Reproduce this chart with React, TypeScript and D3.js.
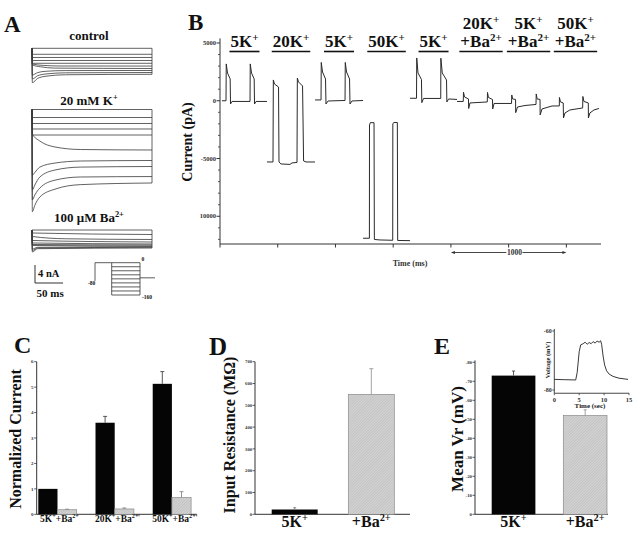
import React from "react";
import * as d3 from "d3";

const SERIF = "'Liberation Serif','Times New Roman',serif";
type Pt = [number, number];
type Part = { t: string; s?: boolean };

// ---------------- Panel A: current traces (ms, nA relative to top trace) ----------------
const controlTraces: Pt[][] = [
  [[0, 0], [214, 0]],
  [[0, 0], [0.6, -1.33], [214, -1.33]],
  [[0, 0], [0.6, -2.04], [214, -2.04]],
  [[0, 0], [0.6, -2.71], [214, -2.71]],
  [[0, 0], [0.6, -3.33], [214, -3.33]],
  [[0, 0], [0.6, -3.49], [20, -3.8], [50, -3.93], [214, -3.95]],
  [[0, 0], [0.6, -3.71], [15, -4.1], [40, -4.4], [214, -4.49]],
  [[0, 0], [0.6, -5.93], [10, -5.4], [25, -5.1], [60, -4.95], [214, -4.93]],
  [[0, 0], [0.6, -6.82], [10, -6.1], [25, -5.7], [60, -5.45], [214, -5.38]],
  [[0, 0], [0.6, -7.64], [10, -6.7], [25, -6.2], [60, -5.88], [214, -5.78]],
];
const k20Traces: Pt[][] = [
  [[0, 0], [214, 0]],
  [[0, 0], [0.6, -1.78], [214, -1.78]],
  [[0, 0], [0.6, -3.11], [214, -3.11]],
  [[0, 0], [0.6, -4.33], [214, -4.33]],
  [[0, 0], [0.6, -5.67], [214, -5.67]],
  [[0, 0], [0.6, -5.44], [14, -7.0], [41, -8.33], [86, -8.89], [214, -9.0]],
  [[0, 0], [0.6, -14.6], [5, -14.0], [14, -12.8], [41, -11.9], [86, -11.45], [214, -11.33]],
  [[0, 0], [0.6, -17.9], [5, -16.8], [14, -15.0], [41, -13.45], [86, -12.8], [214, -12.67]],
  [[0, 0], [0.6, -20.1], [5, -19.0], [14, -17.45], [41, -15.7], [86, -15.0], [214, -14.9]],
  [[0, 0], [0.6, -22.7], [5, -21.3], [14, -19.45], [41, -17.7], [86, -16.7], [214, -16.33]],
];
const baTraces: Pt[][] = [
  [[0, 0], [214, 0]],
  [[0, 0], [0.6, -0.67], [214, -1.0]],
  [[0, 0], [0.6, -1.44], [60, -1.95], [214, -2.11]],
  [[0, 0], [0.6, -2.33], [214, -2.67]],
  [[0, 0], [0.6, -2.89], [214, -3.11]],
  [[0, 0], [0.6, -3.22], [214, -3.33]],
  [[0, 0], [0.6, -3.44], [214, -3.56]],
  [[0, 0], [0.6, -4.22], [10, -3.85], [214, -3.71]],
  [[0, 0], [0.6, -4.56], [10, -4.0], [214, -3.84]],
  [[0, 0], [0.6, -4.89], [10, -4.15], [214, -4.0]],
];
const protocolSteps = [0, -20, -40, -60, -80, -100, -120, -140, -160];

// ---------------- Panel B: continuous current record (ms, pA) ----------------
const seg5K1: Pt[] = [
  [17, 0], [52, 0], [54, 3190], [65, 2400], [88, 1890], [91, -280], [104, -60], [260, -60],
  [262, 3190], [273, 2400], [296, 1890], [299, -280], [312, -60], [407, -60],
];
const seg20K: Pt[] = [
  [407, -5298], [459, -5300], [462, 1800], [472, 1450], [507, 1190], [511, -5300], [528, -5470],
  [606, -5510], [624, -5380], [667, -5340], [670, 1970], [680, 1630], [715, 1280], [724, -5210],
  [745, -5300], [823, -5300],
];
const seg5K2: Pt[] = [
  [823, 70], [875, 70], [877, 3315], [888, 2490], [914, 1890], [918, -280], [936, -20],
  [1083, 25], [1085, 3315], [1096, 2490], [1122, 1890], [1126, -280], [1143, -20], [1239, 25],
];
const seg50K: Pt[] = [
  [1239, -11903], [1294, -11900], [1295, -2095], [1302, -1896], [1334, -1896], [1337, -12007],
  [1386, -12050], [1496, -12077], [1497, -2008], [1505, -1880], [1536, -1880], [1539, -12094],
  [1646, -12110],
];
const seg5K3: Pt[] = [
  [1646, 216], [1702, 216], [1704, 3705], [1715, 2407], [1745, 1844], [1748, -164], [1763, 200],
  [1912, 200], [1913, 3680], [1925, 2407], [1962, 1800], [1965, -104], [1980, 156], [2053, 113],
];
const seg20KBa: Pt[] = [
  [2053, -60], [2107, -60], [2109, 736], [2118, 330], [2152, 156], [2154, -667], [2165, -190],
  [2315, -104], [2317, 720], [2325, 286], [2360, 113], [2362, -710], [2374, -234], [2469, -234],
];
const seg5KBa: Pt[] = [
  [2469, -234], [2525, -234], [2527, 500], [2535, 156], [2560, 113], [2561, -1030], [2577, -540],
  [2642, -410], [2737, -320], [2739, 590], [2747, 156], [2772, 113], [2773, -1230], [2789, -710],
  [2876, -450],
];
const seg50KBa: Pt[] = [
  [2876, -450], [2939, -450], [2940, 286], [2949, -104], [2973, -190], [2975, -1490], [2988, -1056],
  [3031, -796], [3141, -623], [3143, 372], [3152, -60], [3190, -190], [3191, -1490], [3204, -1056],
  [3239, -796], [3282, -667],
];
const bSegments = [seg5K1, seg20K, seg5K2, seg50K, seg5K3, seg20KBa, seg5KBa, seg50KBa];
const bSegLabels: Part[][][] = [
  [[{ t: "5K" }, { t: "+", s: true }]],
  [[{ t: "20K" }, { t: "+", s: true }]],
  [[{ t: "5K" }, { t: "+", s: true }]],
  [[{ t: "50K" }, { t: "+", s: true }]],
  [[{ t: "5K" }, { t: "+", s: true }]],
  [[{ t: "20K" }, { t: "+", s: true }], [{ t: "+Ba" }, { t: "2+", s: true }]],
  [[{ t: "5K" }, { t: "+", s: true }], [{ t: "+Ba" }, { t: "2+", s: true }]],
  [[{ t: "50K" }, { t: "+", s: true }], [{ t: "+Ba" }, { t: "2+", s: true }]],
];
const bYTicks = [5000, 0, -5000, -10000];
const bYTickLabels = ["5000", "0", "-5000", "10000"];
const bXTicks = [0, 500, 1000, 1500, 2000, 2500, 3000];

// ---------------- Panel C ----------------
const cCats = ["5K", "20K", "50K"];
const cLabels: Part[][] = [
  [{ t: "5K" }, { t: "+", s: true }, { t: "+Ba" }, { t: "2+", s: true }],
  [{ t: "20K" }, { t: "+", s: true }, { t: "+Ba" }, { t: "2+", s: true }],
  [{ t: "50K" }, { t: "+", s: true }, { t: "+Ba" }, { t: "2+", s: true }],
];
const cControl = [1.0, 3.6, 5.13];
const cControlErr = [0.0, 0.25, 0.48];
const cBa = [0.18, 0.21, 0.66];
const cBaErr = [0.02, 0.04, 0.23];
const cTicks = [0, 1, 2, 3, 4, 5, 6];

// ---------------- Panel D ----------------
const dCats = ["5K", "Ba"];
const dLabels: Part[][] = [[{ t: "5K" }, { t: "+", s: true }], [{ t: "+Ba" }, { t: "2+", s: true }]];
const dValues = [22, 550];
const dErr = [8, 118];
const dTicks = [0, 100, 200, 300, 400, 500, 600, 700];

// ---------------- Panel E ----------------
const eCats = ["5K", "Ba"];
const eLabels: Part[][] = [[{ t: "5K" }, { t: "+", s: true }], [{ t: "+Ba" }, { t: "2+", s: true }]];
const eValues = [-73, -52];
const eErr = [-2.4, -3.0];
const eTicks = [0, -10, -20, -30, -40, -50, -60, -70, -80];
const insetTrace: Pt[] = [
  [0, -76.4], [2, -76.5], [4.3, -76.6], [4.6, -74], [5.0, -67], [5.3, -64.7], [5.8, -64.3],
  [6.2, -63.8], [6.6, -64.5], [7.0, -63.9], [7.4, -64.3], [7.8, -63.6], [8.2, -64.1], [8.6, -63.4],
  [9.0, -63.8], [9.3, -63.3], [9.5, -64.5], [9.8, -68.5], [10.1, -71.5], [10.5, -73.5], [11, -74.6],
  [11.8, -75.4], [13, -76], [14.8, -76.4],
];
const insetXTicks = [0, 5, 10, 15];
const insetYTicks = [-60, -80];

// ---------------- helpers ----------------
let _ctx: CanvasRenderingContext2D | null = null;
function measure(parts: Part[], size: number, supRatio = 0.65) {
  if (!_ctx) _ctx = document.createElement("canvas").getContext("2d");
  let w = 0;
  for (const p of parts) {
    const fs = p.s ? size * supRatio : size;
    _ctx!.font = `bold ${fs}px "Liberation Serif"`;
    w += _ctx!.measureText(p.t).width;
  }
  return w;
}

function Rich({ x, y, parts, size, anchor = "middle", supRatio = 0.65, transform }: any) {
  const shift = size * 0.38;
  let cur = 0;
  const kids = (parts as Part[]).map((p, i) => {
    const target = p.s ? -shift : 0;
    const dy = target - cur;
    cur = target;
    return (
      <tspan key={i} dy={dy} fontSize={p.s ? size * supRatio : size}>
        {p.t}
      </tspan>
    );
  });
  return (
    <text x={x} y={y} textAnchor={anchor} fontWeight="bold" fontFamily={SERIF} fontSize={size} fill="#111" transform={transform}>
      {kids}
    </text>
  );
}

function Letter({ x, y, t, size }: { x: number; y: number; t: string; size: number }) {
  return (
    <text x={x} y={y} fontWeight="bold" fontFamily={SERIF} fontSize={size} fill="#111">
      {t}
    </text>
  );
}

const AX = "#333";

// ---------------- Panel A ----------------
function PanelA() {
  const xA = d3.scaleLinear().domain([0, 214]).range([32, 152]);
  const groups = [
    { traces: controlTraces, top: 48.3, titleY: 40, title: [{ t: "control" }] as Part[] },
    { traces: k20Traces, top: 109.5, titleY: 105, title: [{ t: "20 mM K" }, { t: "+", s: true }] as Part[] },
    { traces: baTraces, top: 230, titleY: 221.7, title: [{ t: "100 μM Ba" }, { t: "2+", s: true }] as Part[] },
  ];
  const yV = d3.scaleLinear().domain([0, -160]).range([262.7, 295]);
  const scaleY = d3.scaleLinear().domain([0, -4]).range([265, 283]);
  return (
    <g>
      <Letter x={4} y={32} t="A" size={23} />
      {groups.map((g, gi) => {
        const yA = d3.scaleLinear().domain([0, -4]).range([g.top, g.top + 18]);
        const line = d3
          .line<Pt>()
          .x((d) => xA(d[0]))
          .y((d) => yA(d[1]))
          .curve(d3.curveMonotoneX);
        const ends = g.traces.map((t) => t[t.length - 1][1]);
        return (
          <g key={gi}>
            <Rich x={89} y={g.titleY} parts={g.title} size={13} />
            {g.traces.map((t, i) => (
              <path key={i} d={line(t) || ""} fill="none" stroke="#3a3a3a" strokeWidth={0.8} />
            ))}
            <line x1={xA(214)} x2={xA(214)} y1={yA(0)} y2={yA(d3.min(ends)!)} stroke="#3a3a3a" strokeWidth={0.8} />
          </g>
        );
      })}
      {/* scale bars */}
      <line x1={35} x2={35} y1={scaleY(0)} y2={scaleY(-4)} stroke={AX} strokeWidth={1} />
      <line x1={35} x2={35 + xA(50) - xA(0)} y1={scaleY(-4)} y2={scaleY(-4)} stroke={AX} strokeWidth={1} />
      <text x={38} y={277.3} fontFamily={SERIF} fontWeight="bold" fontSize={10.5} fill="#111">
        4 nA
      </text>
      <text x={36.5} y={296.7} fontFamily={SERIF} fontWeight="bold" fontSize={11} fill="#111">
        50 ms
      </text>
      {/* voltage protocol */}
      <line x1={95} x2={95} y1={yV(0)} y2={yV(-90)} stroke={AX} strokeWidth={0.8} />
      <line x1={95} x2={111.7} y1={yV(0)} y2={yV(0)} stroke={AX} strokeWidth={0.8} />
      {protocolSteps.map((v) => (
        <line key={v} x1={111.7} x2={140} y1={yV(v)} y2={yV(v)} stroke={AX} strokeWidth={0.8} />
      ))}
      <line x1={111.7} x2={111.7} y1={yV(0)} y2={yV(-160)} stroke={AX} strokeWidth={0.8} />
      <line x1={140} x2={140} y1={yV(0)} y2={yV(-160)} stroke={AX} strokeWidth={0.8} />
      <line x1={140} x2={155} y1={yV(-75)} y2={yV(-75)} stroke={AX} strokeWidth={0.8} />
      <text x={141.5} y={261} fontFamily={SERIF} fontWeight="bold" fontSize={5.5} fill="#111">0</text>
      <text x={88} y={285} fontFamily={SERIF} fontWeight="bold" fontSize={5.5} fill="#111">-80</text>
      <text x={142} y={299} fontFamily={SERIF} fontWeight="bold" fontSize={5.5} fill="#111">-160</text>
    </g>
  );
}

// ---------------- Panel B ----------------
function PanelB() {
  const xB = d3.scaleLinear().domain([0, 3300]).range([220, 601]);
  const yB = d3.scaleLinear().domain([-12400, 5000]).range([244, 43]);
  const line = d3
    .line<Pt>()
    .x((d) => xB(d[0]))
    .y((d) => yB(d[1]));
  const minor = d3.range(-12000, 5001, 1000).filter((v) => !bYTicks.includes(v));
  const size = 17;
  return (
    <g>
      <Letter x={188} y={30} t="B" size={23} />
      {/* y axis */}
      <line x1={xB(0)} x2={xB(0)} y1={yB(5400)} y2={yB(-12400)} stroke={AX} strokeWidth={1} />
      {bYTicks.map((v, i) => (
        <g key={v}>
          <line x1={xB(0) - 3.5} x2={xB(0)} y1={yB(v)} y2={yB(v)} stroke={AX} strokeWidth={1} />
          <text x={xB(0) - 4} y={yB(v) + 2} textAnchor="end" fontFamily={SERIF} fontWeight="bold" fontSize={6.5} fill="#333">
            {bYTickLabels[i]}
          </text>
        </g>
      ))}
      {minor.map((v) => (
        <line key={v} x1={xB(0) - 2} x2={xB(0)} y1={yB(v)} y2={yB(v)} stroke={AX} strokeWidth={0.8} />
      ))}
      {/* x axis */}
      <line x1={xB(0)} x2={xB(3300)} y1={yB(-12400)} y2={yB(-12400)} stroke={AX} strokeWidth={1} />
      {bXTicks.map((v) => (
        <line key={v} x1={xB(v)} x2={xB(v)} y1={yB(-12400)} y2={yB(-12400) + 3.5} stroke={AX} strokeWidth={1} />
      ))}
      {/* 1000 ms scale */}
      <line x1={xB(2000) + 1} x2={xB(2480)} y1={252.5} y2={252.5} stroke={AX} strokeWidth={0.9} />
      <line x1={xB(2620)} x2={xB(3000) - 1} y1={252.5} y2={252.5} stroke={AX} strokeWidth={0.9} />
      <path d={`M${xB(2000)},252.5 l4,-1.6 l0,3.2 Z`} fill={AX} />
      <path d={`M${xB(3000)},252.5 l-4,-1.6 l0,3.2 Z`} fill={AX} />
      <text x={xB(2550)} y={255} textAnchor="middle" fontFamily={SERIF} fontWeight="bold" fontSize={7.5} fill="#333">
        1000
      </text>
      <text x={410} y={266} textAnchor="middle" fontFamily={SERIF} fontWeight="bold" fontSize={8} fill="#333">
        Time (ms)
      </text>
      <text transform="translate(192,142) rotate(-90)" textAnchor="middle" fontFamily={SERIF} fontWeight="bold" fontSize={14} fill="#111">
        Current (pA)
      </text>
      {/* traces */}
      {bSegments.map((s, i) => (
        <path key={i} d={line(s) || ""} fill="none" stroke="#2a2a2a" strokeWidth={1} />
      ))}
      {/* labels */}
      {bSegLabels.map((rows, i) => {
        const seg = bSegments[i];
        const cx = xB((seg[0][0] + seg[seg.length - 1][0]) / 2);
        const w = d3.max(rows, (r) => measure(r, size)) || 0;
        return (
          <g key={i}>
            {rows.map((r, j) => (
              <Rich key={j} x={cx} y={47 - (rows.length - 1 - j) * 18} parts={r} size={size} />
            ))}
            <line x1={cx - w / 2 - 1} x2={cx + w / 2 + 1} y1={51.5} y2={51.5} stroke="#111" strokeWidth={1.6} />
          </g>
        );
      })}
    </g>
  );
}

// ---------------- Bar helpers ----------------
function ErrBar({ x, y1, y2, color, cap = 3 }: any) {
  return (
    <g>
      <line x1={x} x2={x} y1={y1} y2={y2} stroke={color} strokeWidth={0.9} />
      <line x1={x - cap} x2={x + cap} y1={y2} y2={y2} stroke={color} strokeWidth={0.9} />
    </g>
  );
}

// ---------------- Panel C ----------------
function PanelC() {
  const y = d3.scaleLinear().domain([0, 6]).range([514.3, 361.7]);
  const x0 = d3.scaleBand<string>().domain(cCats).range([38.3, 191.1]).paddingInner(0.329).paddingOuter(0);
  const x1 = d3.scaleBand<string>().domain(["ctrl", "ba"]).range([0, x0.bandwidth()]);
  return (
    <g>
      <Letter x={14} y={352.5} t="C" size={24} />
      <line x1={36.7} x2={36.7} y1={y(6)} y2={y(0)} stroke={AX} strokeWidth={1} />
      <line x1={36.7} x2={196.7} y1={y(0)} y2={y(0)} stroke={AX} strokeWidth={1} />
      <line x1={139} x2={139} y1={y(0)} y2={y(0) + 2} stroke={AX} strokeWidth={0.8} />
      <line x1={196.7} x2={196.7} y1={y(0)} y2={y(0) + 2} stroke={AX} strokeWidth={0.8} />
      {cTicks.map((v) => (
        <g key={v}>
          <line x1={34.2} x2={36.7} y1={y(v)} y2={y(v)} stroke={AX} strokeWidth={0.8} />
          <text x={33.5} y={y(v) + 1.7} textAnchor="end" fontFamily={SERIF} fontWeight="bold" fontSize={5} fill="#333">
            {v}
          </text>
        </g>
      ))}
      {cCats.map((c, i) => {
        const bx = x0(c)!;
        const w = x1.bandwidth();
        const xc = bx + x1("ctrl")!;
        const xb = bx + x1("ba")!;
        return (
          <g key={c}>
            <rect x={xc} y={y(cControl[i])} width={w} height={y(0) - y(cControl[i])} fill="#050505" />
            <rect x={xb} y={y(cBa[i])} width={w} height={y(0) - y(cBa[i])} fill="url(#hatch)" stroke="#8a8a8a" strokeWidth={0.7} />
            {cControlErr[i] > 0 && <ErrBar x={xc + w / 2} y1={y(cControl[i])} y2={y(cControl[i] + cControlErr[i])} color="#444" cap={2} />}
            <ErrBar x={xb + w / 2} y1={y(cBa[i])} y2={y(cBa[i] + cBaErr[i])} color="#888" cap={2} />
            <Rich x={bx + x0.bandwidth() / 2 + 2} y={522} parts={cLabels[i]} size={9.5} />
          </g>
        );
      })}
      <text transform="translate(21,439) rotate(-90)" textAnchor="middle" fontFamily={SERIF} fontWeight="bold" fontSize={16} fill="#111">
        Normalized Current
      </text>
    </g>
  );
}

// ---------------- Panel D ----------------
function PanelD() {
  const y = d3.scaleLinear().domain([0, 700]).range([514.3, 361.7]);
  const x = d3.scaleBand<string>().domain(dCats).range([271.7, 394.3]).paddingInner(0.4).paddingOuter(0);
  return (
    <g>
      <Letter x={209} y={355} t="D" size={25} />
      <line x1={255} x2={255} y1={y(700)} y2={y(0)} stroke={AX} strokeWidth={1} />
      <line x1={255} x2={410} y1={y(0)} y2={y(0)} stroke={AX} strokeWidth={1} />
      {dTicks.map((v) => (
        <g key={v}>
          <line x1={252.5} x2={255} y1={y(v)} y2={y(v)} stroke={AX} strokeWidth={0.8} />
          <text x={252} y={y(v) + 1.7} textAnchor="end" fontFamily={SERIF} fontWeight="bold" fontSize={4.6} fill="#333">
            {v}
          </text>
        </g>
      ))}
      {dCats.map((c, i) => {
        const bx = x(c)!;
        const w = x.bandwidth();
        const isBa = i === 1;
        return (
          <g key={c}>
            <rect x={bx} y={y(dValues[i])} width={w} height={y(0) - y(dValues[i])}
              fill={isBa ? "url(#hatch)" : "#050505"} stroke={isBa ? "#8a8a8a" : "none"} strokeWidth={0.7} />
            <ErrBar x={bx + w / 2} y1={y(dValues[i])} y2={y(dValues[i] + dErr[i])} color={isBa ? "#999" : "#777"} cap={isBa ? 2 : 1.5} />
            <Rich x={bx + w / 2} y={527} parts={dLabels[i]} size={16} />
          </g>
        );
      })}
      <text transform="translate(235,435) rotate(-90)" textAnchor="middle" fontFamily={SERIF} fontWeight="bold" fontSize={16} fill="#111">
        Input Resistance (MΩ)
      </text>
    </g>
  );
}

// ---------------- Panel E ----------------
function PanelE() {
  const y = d3.scaleLinear().domain([0, -80]).range([514.3, 362.3]);
  const x = d3.scaleBand<string>().domain(eCats).range([491.7, 607]).paddingInner(0.39).paddingOuter(0);
  const xi = d3.scaleLinear().domain([0, 15]).range([554.3, 629]);
  const yi = d3.scaleLinear().domain([-80, -60]).range([390, 331]);
  const iline = d3
    .line<Pt>()
    .x((d) => xi(d[0]))
    .y((d) => yi(d[1]));
  return (
    <g>
      <Letter x={434} y={354} t="E" size={24} />
      <line x1={475} x2={475} y1={y(-81)} y2={y(0)} stroke={AX} strokeWidth={1} />
      <line x1={475} x2={608} y1={y(0)} y2={y(0)} stroke={AX} strokeWidth={1} />
      {eTicks.map((v) => (
        <g key={v}>
          <line x1={472.5} x2={475} y1={y(v)} y2={y(v)} stroke={AX} strokeWidth={0.8} />
          <text x={472} y={y(v) + 1.7} textAnchor="end" fontFamily={SERIF} fontWeight="bold" fontSize={4.8} fill="#333">
            {v}
          </text>
        </g>
      ))}
      {eCats.map((c, i) => {
        const bx = x(c)!;
        const w = x.bandwidth();
        const isBa = i === 1;
        return (
          <g key={c}>
            <rect x={bx} y={y(eValues[i])} width={w} height={y(0) - y(eValues[i])}
              fill={isBa ? "url(#hatch)" : "#050505"} stroke={isBa ? "#8a8a8a" : "none"} strokeWidth={0.7} />
            <ErrBar x={bx + w / 2} y1={y(eValues[i])} y2={y(eValues[i] + eErr[i])} color={isBa ? "#999" : "#444"} cap={1.5} />
            <Rich x={bx + w / 2} y={527} parts={eLabels[i]} size={16} />
          </g>
        );
      })}
      <text transform="translate(463,439) rotate(-90)" textAnchor="middle" fontFamily={SERIF} fontWeight="bold" fontSize={17} fill="#111">
        Mean Vr (mV)
      </text>
      {/* inset */}
      <line x1={xi(0)} x2={xi(0)} y1={yi(-59.3)} y2={yi(-81.1)} stroke={AX} strokeWidth={0.9} />
      <line x1={xi(0)} x2={xi(15)} y1={yi(-81.1)} y2={yi(-81.1)} stroke={AX} strokeWidth={0.9} />
      {insetYTicks.map((v) => (
        <g key={v}>
          <line x1={xi(0) - 2} x2={xi(0)} y1={yi(v)} y2={yi(v)} stroke={AX} strokeWidth={0.8} />
          <text x={xi(0) - 2.5} y={yi(v) + 2} textAnchor="end" fontFamily={SERIF} fontWeight="bold" fontSize={6} fill="#333">
            {v}
          </text>
        </g>
      ))}
      {insetXTicks.map((v) => (
        <g key={v}>
          <line x1={xi(v)} x2={xi(v)} y1={yi(-81.1)} y2={yi(-81.1) + 2} stroke={AX} strokeWidth={0.8} />
          <text x={xi(v)} y={401.5} textAnchor="middle" fontFamily={SERIF} fontWeight="bold" fontSize={6.5} fill="#333">
            {v}
          </text>
        </g>
      ))}
      <text x={590} y={407.5} textAnchor="middle" fontFamily={SERIF} fontWeight="bold" fontSize={7} fill="#222">
        Time (sec)
      </text>
      <text transform="translate(550,360) rotate(-90)" textAnchor="middle" fontFamily={SERIF} fontWeight="bold" fontSize={6.5} fill="#222">
        Voltage (mV)
      </text>
      <path d={iline(insetTrace) || ""} fill="none" stroke="#222" strokeWidth={0.9} />
    </g>
  );
}

export default function App() {
  return (
    <svg width={641} height={540} style={{ position: "absolute", left: 0, top: 0, background: "#fff" }}>
      <defs>
        <pattern id="hatch" width="2" height="2" patternUnits="userSpaceOnUse" patternTransform="rotate(45)">
          <rect width="2" height="2" fill="#d4d4d4" />
          <line x1="0" y1="0" x2="0" y2="2" stroke="#ababab" strokeWidth="0.8" />
        </pattern>
      </defs>
      <rect width={641} height={540} fill="#fff" />
      <PanelA />
      <PanelB />
      <PanelC />
      <PanelD />
      <PanelE />
    </svg>
  );
}
